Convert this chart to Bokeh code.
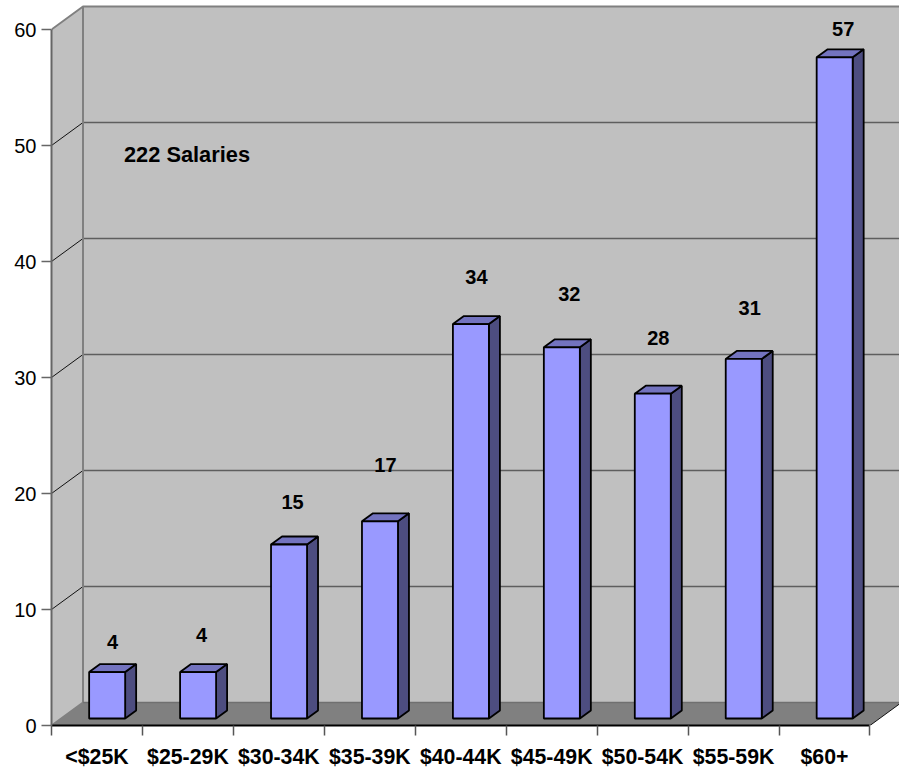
from bokeh.plotting import figure
from bokeh.models import ColumnDataSource, FixedTicker, Range1d
from bokeh.core.properties import value
from bokeh.embed import file_html
from bokeh.resources import INLINE

# ---- data ----
categories = ["<$25K", "$25-29K", "$30-34K", "$35-39K", "$40-44K",
              "$45-49K", "$50-54K", "$55-59K", "$60+"]
salaries = [4, 4, 15, 17, 34, 32, 28, 31, 57]
y_ticks = [0, 10, 20, 30, 40, 50, 60]
note = "222 Salaries"

# ---- layout (pixels of the frame / fractions of a category) ----
PX_X, PX_Y = 90.94, 11.6
WALL_DX, WALL_DY = 31.5 / PX_X, 23 / PX_Y      # depth of the 3-D box
BAR_DX, BAR_DY = 11 / PX_X, 8 / PX_Y           # depth of a bar
BAR_LEFT, BAR_W = 0.414, 36 / PX_X
BAR_BASE = 7 / PX_Y
LABEL_DX = [5.5, 3.5, 3.5, 5.5, 5.5, 7.5, 5.5, 6, 8.5]
LABEL_DY = [22, 29, 35, 48, 39, 45, 48, 43, 20]
FONT = value("Liberation Sans")
n = len(categories)
top = y_ticks[-1]

p = figure(frame_width=848, frame_height=725, output_backend="svg", toolbar_location=None,
           x_range=Range1d(0, 848 / PX_X), y_range=Range1d(0, 725 / PX_Y),
           min_border_left=51, min_border_right=0, min_border_top=0, min_border_bottom=43,
           outline_line_color=None, background_fill_color="white")
p.styles = {"position": "absolute", "left": "0px", "top": "0px"}
p.grid.visible = False

# ---- walls and floor ----
p.patch([0, WALL_DX, WALL_DX, 0], [0, WALL_DY, top + WALL_DY, top],
        fill_color="#C0C0C0", line_color=None)
p.quad(left=WALL_DX, right=n + WALL_DX, bottom=WALL_DY, top=top + WALL_DY,
       fill_color="#C0C0C0", line_color=None)
p.patch([0, n, n + WALL_DX, WALL_DX], [0, 0, WALL_DY, WALL_DY],
        fill_color="#808080", line_color=None)

# ---- grid on the back and side walls ----
inner = y_ticks[1:-1]
p.multi_line([[WALL_DX, n + WALL_DX] for _ in inner], [[t + WALL_DY] * 2 for t in inner],
             line_color="#5E5E5E", line_width=1.5)
p.multi_line([[0, WALL_DX] for _ in inner], [[t, t + WALL_DY] for t in inner],
             line_color="#111111", line_width=1)
p.line([0, WALL_DX, n + WALL_DX], [top, top + WALL_DY, top + WALL_DY],
       line_color="#808080", line_width=2)
p.line([WALL_DX, WALL_DX, 0], [top + WALL_DY, WALL_DY, 0], line_color="#808080", line_width=2)
p.line([WALL_DX, n + WALL_DX], [WALL_DY, WALL_DY], line_color="#707070", line_width=1.5)
p.line([n, n + WALL_DX], [0, WALL_DY], line_color="#111111", line_width=1)

# ---- bars ----
lefts = [i + BAR_LEFT for i in range(n)]
rights = [l + BAR_W for l in lefts]
tops = [v + BAR_BASE for v in salaries]
p.patches([[r, r + BAR_DX, r + BAR_DX, r] for r in rights],
          [[BAR_BASE, BAR_BASE + BAR_DY, t + BAR_DY, t] for t in tops],
          fill_color="#4D4D80", line_color="black", line_width=1.8)
p.patches([[l, r, r + BAR_DX, l + BAR_DX] for l, r in zip(lefts, rights)],
          [[t, t, t + BAR_DY, t + BAR_DY] for t in tops],
          fill_color="#7373BF", line_color="black", line_width=1.8)
p.quad(left=lefts, right=rights, bottom=BAR_BASE, top=tops,
       fill_color="#9999FF", line_color="black", line_width=1.8)

# ---- value labels ----
src = ColumnDataSource(dict(
    x=[l + BAR_W / 2 for l in lefts],
    y=[t + BAR_DY for t in tops],
    dx=LABEL_DX, dy=[-d for d in LABEL_DY],
    t=[str(v) for v in salaries]))
p.text("x", "y", text="t", source=src, x_offset="dx", y_offset="dy",
       text_font=FONT, text_font_style="bold", text_font_size="20px",
       text_align="center", text_baseline="middle", text_color="black")
p.text([0.797], [49.2], text=[note], text_font=FONT, text_font_style="bold",
       text_font_size="21.8px", text_align="left", text_baseline="middle", text_color="black")

# ---- axes ----
ax = p.yaxis[0]
ax.ticker = FixedTicker(ticks=y_ticks)
ax.bounds = (y_ticks[0], top)
ax.axis_line_color = "#666666"
ax.axis_line_width = 2
ax.major_tick_line_color = "#666666"
ax.major_tick_line_width = 1.5
ax.major_tick_out, ax.major_tick_in = 10, 0
ax.minor_tick_out, ax.minor_tick_in = 0, 0
ax.major_label_standoff = 5
ax.major_label_text_font = "Liberation Sans"
ax.major_label_text_font_size = "20px"
ax.major_label_text_color = "black"

bx = p.xaxis[0]
centres = [i + 0.5 for i in range(n)]
bx.ticker = FixedTicker(ticks=centres, minor_ticks=list(range(n + 1)))
bx.major_label_overrides = {c: s for c, s in zip(centres, categories)}
bx.bounds = (0, n)
bx.axis_line_color = "black"
bx.axis_line_width = 2
bx.major_tick_out, bx.major_tick_in = 0, 0
bx.minor_tick_out, bx.minor_tick_in = 10, 0
bx.minor_tick_line_color = "#555555"
bx.minor_tick_line_width = 1.5
bx.major_label_standoff = 9
bx.major_label_text_font = "Liberation Sans"
bx.major_label_text_font_style = "bold"
bx.major_label_text_font_size = "21.3px"
bx.major_label_text_color = "black"

open("out.html", "w").write(file_html(p, INLINE))
